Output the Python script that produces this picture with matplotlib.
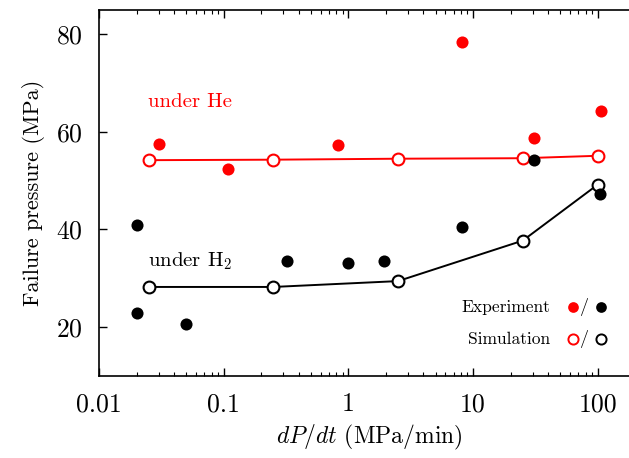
import matplotlib
matplotlib.use("Agg")
import matplotlib.pyplot as plt
from matplotlib.ticker import FixedLocator, FixedFormatter, LogLocator, NullFormatter, NullLocator

plt.rcParams['font.family'] = 'serif'
plt.rcParams['font.serif'] = ['cmr10', 'DejaVu Serif']
plt.rcParams['mathtext.fontset'] = 'cm'
plt.rcParams['axes.formatter.use_mathtext'] = True

# experiment, helium
he_exp_x = [0.03, 0.108, 0.82, 8.2, 30.8, 106]
he_exp_y = [57.5, 52.3, 57.3, 78.5, 58.8, 64.3]
# simulation, helium
he_sim_x = [0.025, 0.25, 2.5, 25, 100]
he_sim_y = [54.2, 54.3, 54.5, 54.6, 55.1]
# experiment, hydrogen
h2_exp_x = [0.02, 0.02, 0.05, 0.322, 1.0, 1.94, 8.1, 31, 104]
h2_exp_y = [40.9, 22.9, 20.5, 33.5, 33.2, 33.5, 40.4, 54.3, 47.2]
# simulation, hydrogen
h2_sim_x = [0.025, 0.25, 2.5, 25, 100]
h2_sim_y = [28.2, 28.2, 29.4, 37.7, 49.2]

xticks = [0.01, 0.1, 1, 10, 100]
xticklabels = ['0.01', '0.1', '1', '10', '100']
yticks = [20, 40, 60, 80]

fig = plt.figure(figsize=(6.29, 4.58), dpi=100)
# right edge of the box sits just outside the picture
ax = fig.add_axes([0.1574, 0.1797, 0.8601, 0.7985])

ax.plot(he_sim_x, he_sim_y, '-', color='red', lw=1.4, zorder=2)
ax.plot(he_sim_x, he_sim_y, 'o', mfc='white', mec='red', mew=1.5, ms=8.5, zorder=3)
ax.plot(h2_sim_x, h2_sim_y, '-', color='black', lw=1.4, zorder=2)
ax.plot(h2_sim_x, h2_sim_y, 'o', mfc='white', mec='black', mew=1.5, ms=8.5, zorder=3)
ax.plot(he_exp_x, he_exp_y, 'o', color='red', ms=8.7, mew=0, zorder=4)
ax.plot(h2_exp_x, h2_exp_y, 'o', color='black', ms=8.7, mew=0, zorder=4)

ax.text(0.0247, 66.2, 'under He', color='red', fontsize=15, va='center', ha='left')
ax.text(0.0247, 33.4, r'under H$_2$', color='black', fontsize=15, va='center', ha='left')

# hand-made legend
ax.text(0.8337, 0.1879, 'Experiment', transform=ax.transAxes, fontsize=12.6, ha='right', va='center')
ax.text(0.8337, 0.1004, 'Simulation', transform=ax.transAxes, fontsize=12.6, ha='right', va='center')
ax.plot([0.8756], [0.1879], 'o', color='red', ms=7.7, mew=0, transform=ax.transAxes)
ax.plot([0.9279], [0.1879], 'o', color='black', ms=7.7, mew=0, transform=ax.transAxes)
ax.plot([0.8756], [0.1004], 'o', mfc='white', mec='red', mew=1.4, ms=7.3, transform=ax.transAxes)
ax.plot([0.9279], [0.1004], 'o', mfc='white', mec='black', mew=1.4, ms=7.3, transform=ax.transAxes)
ax.text(0.8965, 0.1879, '/', transform=ax.transAxes, fontsize=13, ha='center', va='center')
ax.text(0.8965, 0.1004, '/', transform=ax.transAxes, fontsize=13, ha='center', va='center')

ax.set_xscale('log')
ax.set_xlim(0.01, 218)
ax.set_ylim(10, 85)
ax.xaxis.set_major_locator(FixedLocator(xticks))
ax.xaxis.set_major_formatter(FixedFormatter(xticklabels))
ax.xaxis.set_minor_locator(LogLocator(base=10, subs=range(2, 10)))
ax.xaxis.set_minor_formatter(NullFormatter())
ax.set_yticks(yticks)
ax.yaxis.set_minor_locator(NullLocator())
ax.tick_params(axis='both', which='major', direction='in', length=6, width=1, labelsize=18.5, pad=12,
               top=True, right=True)
ax.tick_params(axis='x', which='minor', direction='in', length=3, width=0.8, top=True)
for s in ax.spines.values():
    s.set_linewidth(1.2)

ax.set_xlabel(r'$dP/dt$ (MPa/min)', fontsize=17, labelpad=5)
ax.set_ylabel('Failure pressure (MPa)', fontsize=16, labelpad=8)

fig.savefig('out.png', dpi=100)
